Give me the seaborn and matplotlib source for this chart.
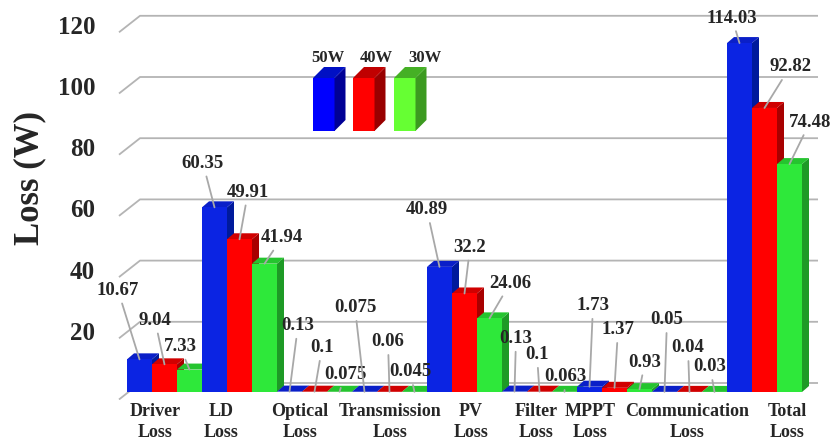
import numpy as np
import pandas as pd
import matplotlib
matplotlib.use("Agg")
import matplotlib.pyplot as plt
from matplotlib.patches import Polygon
import seaborn as sns

# ---- data -------------------------------------------------------------
categories = ["Driver\nLoss", "LD\nLoss", "Optical\nLoss", "Transmission\nLoss",
              "PV\nLoss", "Filter\nLoss", "MPPT\nLoss", "Communication\nLoss",
              "Total\nLoss"]
series = ["50W", "40W", "30W"]
loss_50w = [10.67, 60.35, 0.13, 0.075, 40.89, 0.13, 1.73, 0.05, 114.03]
loss_40w = [9.04, 49.91, 0.1, 0.06, 32.2, 0.1, 1.37, 0.04, 92.82]
loss_30w = [7.33, 41.94, 0.075, 0.045, 24.06, 0.063, 0.93, 0.03, 74.48]
y_ticks = [20, 40, 60, 80, 100, 120]

# ---- styling ----------------------------------------------------------
front_colors = {"50W": "#0b24e3", "40W": "#ff0000", "30W": "#2ee83a"}
side_colors = ["#001a9c", "#a80000", "#1e9a26"]
top_colors = ["#0a1fc8", "#d00000", "#25c42f"]
legend_front = ["#0000ff", "#ff0000", "#66ff33"]
legend_side = ["#000096", "#990000", "#3c9a20"]
legend_top = ["#0010c4", "#c00000", "#45b025"]
grid_color = "#b4b4b4"
leader_color = "#a8a8a8"

# value-label offsets from each bar's top (pixels: right, up)
label_offsets = [
    (-21.5, 69), (-9.5, 44), (-9.5, 23),
    (-11.5, 44), (8.5, 47), (17.5, 26),
    (8.5, 66), (7.5, 44), (5.5, 17),
    (-9.5, 84), (-1.5, 50), (-4.5, 20),
    (-12.5, 57), (5.5, 46), (20.5, 35),
    (1.5, 53), (-2.5, 37), (0.5, 15),
    (3.5, 81), (3.5, 58), (5.5, 27),
    (2.5, 72), (-1.5, 44), (-4.5, 25),
    (-7.5, 25), (25.5, 41), (20.5, 42),
]
# horizontal shift of category captions (pixels)
caption_shift = [-9.5, -18.5, -14.5, 0.5, 6.5, -3.5, -24.5, -2.5, 22.5]

sns.set_style("white")
plt.rcParams["font.family"] = ["Liberation Serif", "DejaVu Serif"]
plt.rcParams["font.weight"] = "bold"

W, H = 832, 445
fig = plt.figure(figsize=(W / 100, H / 100), dpi=100)
ax = fig.add_axes([100 / W, 45 / H, 732 / W, 400 / H])

# pixel geometry of the projected plot
PX_PER_CAT = 75.0
X0_PX = 164.5
BASE_PX = 392.0
PX_PER_UNIT = 3.06


def to_data(px, py):
    return (px - X0_PX) / PX_PER_CAT, (BASE_PX - py) / PX_PER_UNIT


def shift(dx, dy_up):
    return dx / PX_PER_CAT, dy_up / PX_PER_UNIT


df = pd.DataFrame({
    "category": categories * 3,
    "loss": loss_50w + loss_40w + loss_30w,
    "power": np.repeat(series, len(categories)),
})

sns.barplot(data=df, x="category", y="loss", hue="power", order=categories,
            hue_order=series, palette=front_colors, width=1.0, gap=0,
            saturation=1, linewidth=0, errorbar=None, legend=False, ax=ax)

ax.set_xlim(to_data(100, 0)[0], to_data(W, 0)[0])
ax.set_ylim(to_data(0, 400)[1], to_data(0, 0)[1])

# back wall grid with its receding left edge
lift = 9 / PX_PER_UNIT
xl = to_data(140, 0)[0]
xr = to_data(818, 0)[0]
xf = to_data(119, 0)[0]
for v in [0] + y_ticks:
    ax.plot([xf, xl, xr], [v - 7.5 / PX_PER_UNIT, v + lift, v + lift],
            color=grid_color, lw=1.3, zorder=1, solid_capstyle="butt")

# extrude the seaborn bars into 3-D blocks
ddx, ddy = shift(7, 6)
bars = sorted(ax.patches, key=lambda p: p.get_x())
for k, bar in enumerate(bars):
    j = k % 3
    x0 = bar.get_x()
    x1 = x0 + bar.get_width()
    h = bar.get_height()
    base_z = 10 + 3 * k
    side = Polygon([(x1, 0), (x1, h), (x1 + ddx, h + ddy), (x1 + ddx, ddy)],
                   closed=True, facecolor=side_colors[j], edgecolor="none",
                   zorder=base_z)
    top = Polygon([(x0, h), (x1, h), (x1 + ddx, h + ddy), (x0 + ddx, h + ddy)],
                  closed=True, facecolor=top_colors[j], edgecolor="none",
                  zorder=base_z + 1)
    ax.add_patch(side)
    ax.add_patch(top)
    bar.set_zorder(base_z + 2)

    dx, dy = label_offsets[k]
    ax.annotate(f"{h:g}", xy=(x0 + bar.get_width() / 2, h),
                xytext=(dx, dy), textcoords="offset pixels",
                ha="center", va="center", fontsize=13.5, fontweight="bold",
                annotation_clip=False, zorder=200,
                arrowprops=dict(arrowstyle="-", color=leader_color, lw=1.3,
                                shrinkA=1, shrinkB=0))

# category captions
cap_y = to_data(0, 422)[1]
for i, name in enumerate(categories):
    ax.text(i + caption_shift[i] / PX_PER_CAT, cap_y, name, ha="center",
            va="center", fontsize=13, fontweight="bold", linespacing=1.35,
            multialignment="center")

# legend drawn as 3-D blocks
leg_left = [313, 353, 394]
leg_w, leg_top, leg_bot = 21.5, 78, 131
ldx, ldy = shift(11, 11)
for j, name in enumerate(series):
    xa, yb = to_data(leg_left[j], leg_bot)
    xb, yt = to_data(leg_left[j] + leg_w, leg_top)
    ax.add_patch(Polygon([(xa, yb), (xb, yb), (xb, yt), (xa, yt)],
                         facecolor=legend_front[j], edgecolor="none", zorder=300))
    ax.add_patch(Polygon([(xb, yb), (xb, yt), (xb + ldx, yt + ldy), (xb + ldx, yb + ldy)],
                         facecolor=legend_side[j], edgecolor="none", zorder=300))
    ax.add_patch(Polygon([(xa, yt), (xb, yt), (xb + ldx, yt + ldy), (xa + ldx, yt + ldy)],
                         facecolor=legend_top[j], edgecolor="none", zorder=300))
    tx, ty = to_data(328 + 48.5 * j, 58)
    ax.text(tx, ty, name, ha="center", va="center", fontsize=12,
            fontweight="bold", zorder=301)

# axes dressing
for s in ax.spines.values():
    s.set_visible(False)
ax.set_xticks([])
ax.set_xlabel("")
ax.set_yticks(y_ticks)
ax.set_yticklabels([str(t) for t in y_ticks], fontsize=18, fontweight="bold")
ax.tick_params(axis="y", length=0, pad=3.5)
ax.set_ylabel("Loss (W)", fontsize=25, fontweight="bold")
ax.yaxis.set_label_coords((46 - 100) / 732, (400 - 178) / 400)
ax.grid(False)

fig.savefig("out.png", dpi=100)
